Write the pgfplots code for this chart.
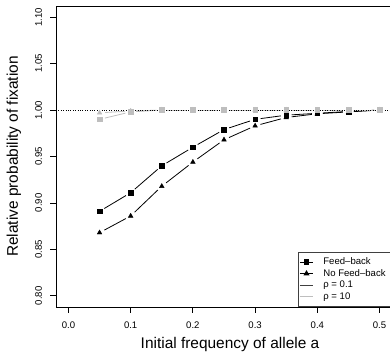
\documentclass[border=0pt]{standalone}
\usepackage{fontspec}
\setmainfont{Liberation Sans}
\usepackage{pgfplots}
\usepackage{pgfplotstable}
\pgfplotsset{compat=1.18}
\definecolor{rgrey}{RGB}{190,190,190}

% Feed-back, rho = 0.1
\pgfplotstableread{
x y
0.05 0.891
0.10 0.911
0.15 0.940
0.20 0.960
0.25 0.979
0.30 0.990
0.35 0.9945
0.40 0.9965
0.45 0.9985
0.50 1.000
}\fbA
% No feed-back, rho = 0.1
\pgfplotstableread{
x y
0.05 0.868
0.10 0.886
0.15 0.918
0.20 0.944
0.25 0.968
0.30 0.983
0.35 0.992
0.40 0.996
0.45 0.998
0.50 1.000
}\nfA
% Feed-back, rho = 10
\pgfplotstableread{
x y
0.05 0.990
0.10 0.998
0.15 1.000
0.20 1.000
0.25 1.000
0.30 1.000
0.35 1.000
0.40 1.000
0.45 1.000
0.50 1.000
}\fbB
% No feed-back, rho = 10
\pgfplotstableread{
x y
0.05 0.997
0.10 0.999
0.15 1.000
0.20 1.000
0.25 1.000
0.30 1.000
0.35 1.000
0.40 1.000
0.45 1.000
0.50 1.000
}\nfB

% one line segment between two consecutive points, with gaps at both ends (R type = "b")
\newcommand{\seg}[5]{\addplot[#1, line width=0.8bp, shorten <=5.5bp, shorten >=5.5bp, forget plot] coordinates {(#2,#3) (#4,#5)};}

\begin{document}
\begin{tikzpicture}
\path[use as bounding box, clip] (0,0) rectangle (390bp,355bp);
\begin{axis}[
  scale only axis, width=336bp, height=301bp,
  at={(56bp,48bp)}, anchor=south west,
  xmin=-0.02, xmax=0.52, ymin=0.788, ymax=1.112,
  xtick={0,0.1,0.2,0.3,0.4,0.5},
  xticklabels={0.0,0.1,0.2,0.3,0.4,0.5},
  ytick={0.80,0.85,0.90,0.95,1.00,1.05,1.10},
  yticklabels={0.80,0.85,0.90,0.95,1.00,1.05,1.10},
  tick align=outside, xtick pos=bottom, ytick pos=left,
  major tick length=6bp,
  tick style={black, line width=0.8bp},
  axis line style={line width=0.8bp},
  ticklabel style={font=\fontsize{9.6}{11}\selectfont},
  yticklabel style={rotate=90, anchor=south},
  xticklabel style={anchor=north},
  xticklabel shift=5bp, yticklabel shift=4.5bp,
  xlabel={Initial frequency of allele a},
  ylabel={Relative probability of fixation},
  every axis x label/.style={at={(axis description cs:0.5,0)}, anchor=center, xshift=6bp, yshift=-38bp, font=\fontsize{15.5}{18}\selectfont},
  every axis y label/.style={at={(axis description cs:0,0.5)}, xshift=-42bp, rotate=90, anchor=center, font=\fontsize{15.5}{18}\selectfont},
  legend style={at={(rel axis cs:1,0)}, anchor=south east, xshift=1bp,
    draw=black!75, line width=0.8bp, fill=white,
    font=\fontsize{9.6}{11}\selectfont,
    inner xsep=1bp, inner ysep=5.5bp, row sep=2.5bp, column sep=10bp,
    nodes={inner sep=0bp, text height=7bp, text depth=2bp}},
  legend cell align=left,
  legend image code/.code={\draw[mark repeat=2,mark phase=2,#1] plot coordinates {(0bp,0bp) (6.5bp,0bp) (13bp,0bp)};},
]
% black series (rho = 0.1)
\seg{black}{0.05}{0.891}{0.10}{0.911}
\seg{black}{0.10}{0.911}{0.15}{0.940}
\seg{black}{0.15}{0.940}{0.20}{0.960}
\seg{black}{0.20}{0.960}{0.25}{0.979}
\seg{black}{0.25}{0.979}{0.30}{0.990}
\seg{black}{0.30}{0.990}{0.35}{0.9945}
\seg{black}{0.35}{0.9945}{0.40}{0.9965}
\seg{black}{0.40}{0.9965}{0.45}{0.9985}
\seg{black}{0.45}{0.9985}{0.50}{1.000}
\seg{black}{0.05}{0.868}{0.10}{0.886}
\seg{black}{0.10}{0.886}{0.15}{0.918}
\seg{black}{0.15}{0.918}{0.20}{0.944}
\seg{black}{0.20}{0.944}{0.25}{0.968}
\seg{black}{0.25}{0.968}{0.30}{0.983}
\seg{black}{0.30}{0.983}{0.35}{0.992}
\seg{black}{0.35}{0.992}{0.40}{0.996}
\seg{black}{0.40}{0.996}{0.45}{0.998}
\seg{black}{0.45}{0.998}{0.50}{1.000}
\addplot[black, only marks, mark=square*, mark size=2.35bp, forget plot] table[x=x,y=y] {\fbA};
\addplot[black, only marks, mark=triangle*, mark size=2.7bp, forget plot] table[x=x,y=y] {\nfA};
% grey series (rho = 10)
\seg{rgrey}{0.05}{0.990}{0.10}{0.998}
\seg{rgrey}{0.10}{0.998}{0.15}{1.000}
\seg{rgrey}{0.15}{1.000}{0.20}{1.000}
\seg{rgrey}{0.20}{1.000}{0.25}{1.000}
\seg{rgrey}{0.25}{1.000}{0.30}{1.000}
\seg{rgrey}{0.30}{1.000}{0.35}{1.000}
\seg{rgrey}{0.35}{1.000}{0.40}{1.000}
\seg{rgrey}{0.40}{1.000}{0.45}{1.000}
\seg{rgrey}{0.45}{1.000}{0.50}{1.000}
\seg{rgrey}{0.05}{0.997}{0.10}{0.999}
\seg{rgrey}{0.10}{0.999}{0.15}{1.000}
\addplot[rgrey, only marks, mark=square*, mark size=2.35bp, forget plot] table[x=x,y=y] {\fbB};
\addplot[rgrey, only marks, mark=triangle*, mark size=2.7bp, forget plot] table[x=x,y=y] {\nfB};
% dotted reference line
\addplot[black, line width=0.8bp, dash pattern=on 0.8bp off 1.6bp, forget plot] coordinates {(-0.02,1) (0.52,1)};
% legend entries
\addlegendimage{black, line width=0.8bp, mark=square*, mark size=2.35bp}
\addlegendentry{Feed–back}
\addlegendimage{black, line width=0.8bp, mark=triangle*, mark size=2.7bp}
\addlegendentry{No Feed–back\rule{6bp}{0pt}}
\addlegendimage{black!75, line width=0.8bp}
\addlegendentry{ρ = 0.1}
\addlegendimage{rgrey, line width=0.8bp}
\addlegendentry{ρ = 10}
\end{axis}
\end{tikzpicture}
\end{document}
